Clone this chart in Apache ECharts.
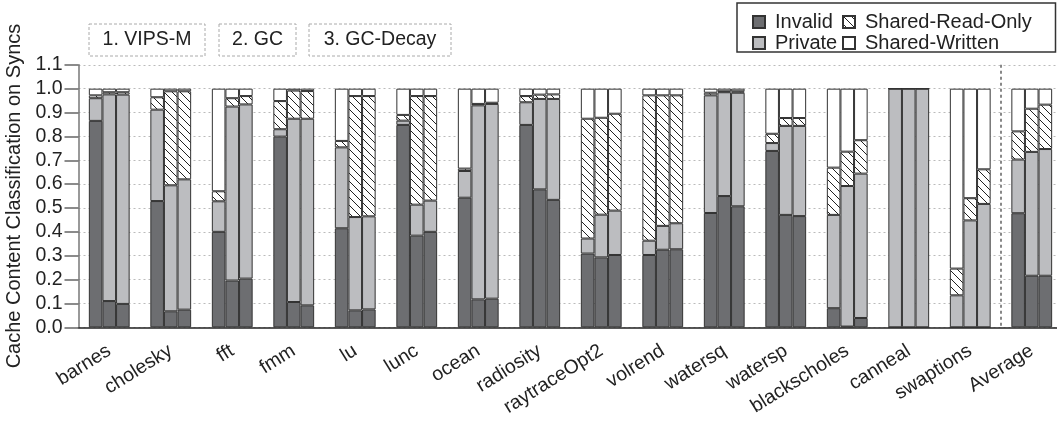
<!DOCTYPE html>
<html>
<head>
<meta charset="utf-8">
<script src="https://cdn.jsdelivr.net/npm/echarts@6/dist/echarts.min.js"></script>
<style>
html,body{margin:0;padding:0;background:#fff;}
#chart{width:1057px;height:424px;}
</style>
</head>
<body>
<div id="chart"></div>
<script>
const categories = ['barnes','cholesky','fft','fmm','lu','lunc','ocean','radiosity','raytraceOpt2','volrend','watersq','watersp','blackscholes','canneal','swaptions','Average'];
const configLabels = ['1. VIPS-M','2. GC','3. GC-Decay'];
const segmentNames = ['Invalid','Private','Shared-Read-Only','Shared-Written'];
const yTicks = [0,0.1,0.2,0.3,0.4,0.5,0.6,0.7,0.8,0.9,1.0,1.1];

// VIPS-M
const vipsInvalid = [0.865,0.529,0.400,0.799,0.415,0.848,0.543,0.848,0.309,0.303,0.479,0.739,0.080,0,0,0.478];
const vipsPrivate = [0.095,0.383,0.128,0.031,0.339,0.018,0.112,0.095,0.063,0.060,0.493,0.033,0.391,1,0.134,0.225];
const vipsSRO     = [0.012,0.052,0.042,0.118,0.027,0.024,0.010,0.026,0.502,0.609,0.011,0.039,0.198,0,0.112,0.118];
const vipsSW      = [0.028,0.036,0.430,0.052,0.219,0.110,0.335,0.031,0.126,0.028,0.017,0.189,0.331,0,0.754,0.179];
// GC
const gcInvalid = [0.110,0.067,0.196,0.106,0.071,0.384,0.117,0.578,0.293,0.325,0.550,0.471,0.003,0,0,0.216];
const gcPrivate = [0.866,0.528,0.729,0.768,0.391,0.130,0.813,0.379,0.179,0.100,0.435,0.373,0.589,1,0.448,0.519];
const gcSRO     = [0.009,0.394,0.035,0.118,0.507,0.455,0.006,0.018,0.406,0.547,0.004,0.033,0.144,0,0.093,0.181];
const gcSW      = [0.015,0.011,0.040,0.008,0.031,0.031,0.064,0.025,0.122,0.028,0.011,0.123,0.264,0,0.459,0.084];
// GC-Decay
const gcdInvalid = [0.098,0.074,0.204,0.092,0.075,0.400,0.120,0.534,0.303,0.327,0.507,0.466,0.039,0,0,0.216];
const gcdPrivate = [0.877,0.546,0.730,0.782,0.390,0.131,0.816,0.423,0.186,0.109,0.476,0.378,0.605,1,0.517,0.531];
const gcdSRO     = [0.010,0.369,0.035,0.116,0.504,0.438,0.005,0.019,0.406,0.536,0.006,0.033,0.140,0,0.145,0.186];
const gcdSW      = [0.015,0.011,0.031,0.010,0.031,0.031,0.059,0.024,0.105,0.028,0.011,0.123,0.216,0,0.338,0.067];

const FONT = 'Liberation Sans, Arial, Helvetica, sans-serif';

function hatchCanvas(){
  const c = document.createElement('canvas');
  c.width = 8; c.height = 8;
  const ctx = c.getContext('2d');
  ctx.fillStyle = '#ffffff';
  ctx.fillRect(0,0,8,8);
  ctx.strokeStyle = '#222';
  ctx.lineWidth = 1;
  ctx.beginPath();
  ctx.moveTo(-1,-1); ctx.lineTo(9,9);
  ctx.moveTo(-1,7); ctx.lineTo(1,9);
  ctx.moveTo(7,-1); ctx.lineTo(9,1);
  ctx.stroke();
  return c;
}
const hatch = {image: hatchCanvas(), repeat: 'repeat'};
const fills = ['#6d6e71','#bcbdc0',hatch,'#ffffff'];

const stacks = [
  {id:'v', data:[vipsInvalid,vipsPrivate,vipsSRO,vipsSW]},
  {id:'g', data:[gcInvalid,gcPrivate,gcSRO,gcSW]},
  {id:'d', data:[gcdInvalid,gcdPrivate,gcdSRO,gcdSW]}
];
const series = [];
stacks.forEach(s => {
  s.data.forEach((arr, k) => {
    series.push({
      type:'bar', name: segmentNames[k], stack: s.id,
      data: arr, barWidth: 13.6, barGap: '0%',
      itemStyle: {color: fills[k], borderColor:'#333', borderWidth:1},
      emphasis: {disabled:true},
      animation:false
    });
  });
});

const chart = echarts.init(document.getElementById('chart'), null, {renderer:'canvas'});
const legendCommon = {
  orient:'vertical', top:7, itemWidth:12, itemHeight:12, itemGap:1, icon:'rect',
  selectedMode:false,
  textStyle:{fontSize:20, fontFamily:FONT, color:'#222', lineHeight:19, padding:[0,0,0,5]}
};
chart.setOption({
  animation:false,
  textStyle:{fontFamily:FONT},
  grid:{left:78.5, width:984, top:64.8, bottom:96.7, containLabel:false, outerBoundsMode:'none'},
  legend:[
    Object.assign({data:['Invalid','Private'], left:747}, legendCommon),
    Object.assign({data:['Shared-Read-Only','Shared-Written'], left:837}, legendCommon)
  ],
  xAxis:{
    type:'category', data:categories,
    axisLine:{lineStyle:{color:'#222', width:1.5}},
    axisTick:{alignWithLabel:true, length:13, lineStyle:{color:'#666', width:1.5}},
    axisLabel:{rotate:32, interval:0, fontSize:19.5, fontFamily:FONT, color:'#222', margin:22}
  },
  yAxis:{
    type:'value', min:0, max:1.1, interval:0.1,
    name:'Cache Content Classification on Syncs', nameLocation:'middle', nameGap:49,
    nameTextStyle:{fontSize:20, fontFamily:FONT, color:'#222'},
    axisLine:{show:true, lineStyle:{color:'#777', width:1.5}},
    axisTick:{show:true, length:14, lineStyle:{color:'#666', width:1.5}},
    axisLabel:{fontSize:19.5, fontFamily:FONT, color:'#222', margin:16,
      formatter: v => { const t = yTicks.find(x => Math.abs(x - v) < 1e-6); return (t !== undefined ? t : v).toFixed(1); }},
    splitLine:{show:true, lineStyle:{color:'#bbb', type:[2,3], width:1}}
  },
  series: series
});

// separator line between last benchmark and Average, positioned via the axes
const xa = chart.convertToPixel({xAxisIndex:0}, categories[categories.length-2]);
const xb = chart.convertToPixel({xAxisIndex:0}, categories[categories.length-1]);
const sepX = (xa + xb) / 2;
const yTop = chart.convertToPixel({yAxisIndex:0}, 1.1);
const yBot = chart.convertToPixel({yAxisIndex:0}, 0);

const boxes = [{x:89, w:116}, {x:219, w:77}, {x:309, w:142}];
const graphics = [];
configLabels.forEach((t, i) => {
  const b = boxes[i];
  graphics.push({type:'rect', shape:{x:b.x, y:24, width:b.w, height:32}, style:{fill:'none', stroke:'#aaa', lineWidth:1, lineDash:[3,2]}, silent:true});
  graphics.push({type:'text', x:b.x + b.w/2, y:40, style:{text:t, fontSize:19.5, fontFamily:FONT, fill:'#222', textAlign:'center', textVerticalAlign:'middle'}, silent:true});
});
graphics.push({type:'rect', shape:{x:737, y:3, width:318.5, height:49}, style:{fill:'none', stroke:'#333', lineWidth:1.5}, silent:true});
graphics.push({type:'line', shape:{x1:sepX, y1:yTop, x2:sepX, y2:yBot}, style:{stroke:'#888', lineWidth:2, lineDash:[3,3]}, z:10, silent:true});
chart.setOption({graphic: graphics});
</script>
</body>
</html>
